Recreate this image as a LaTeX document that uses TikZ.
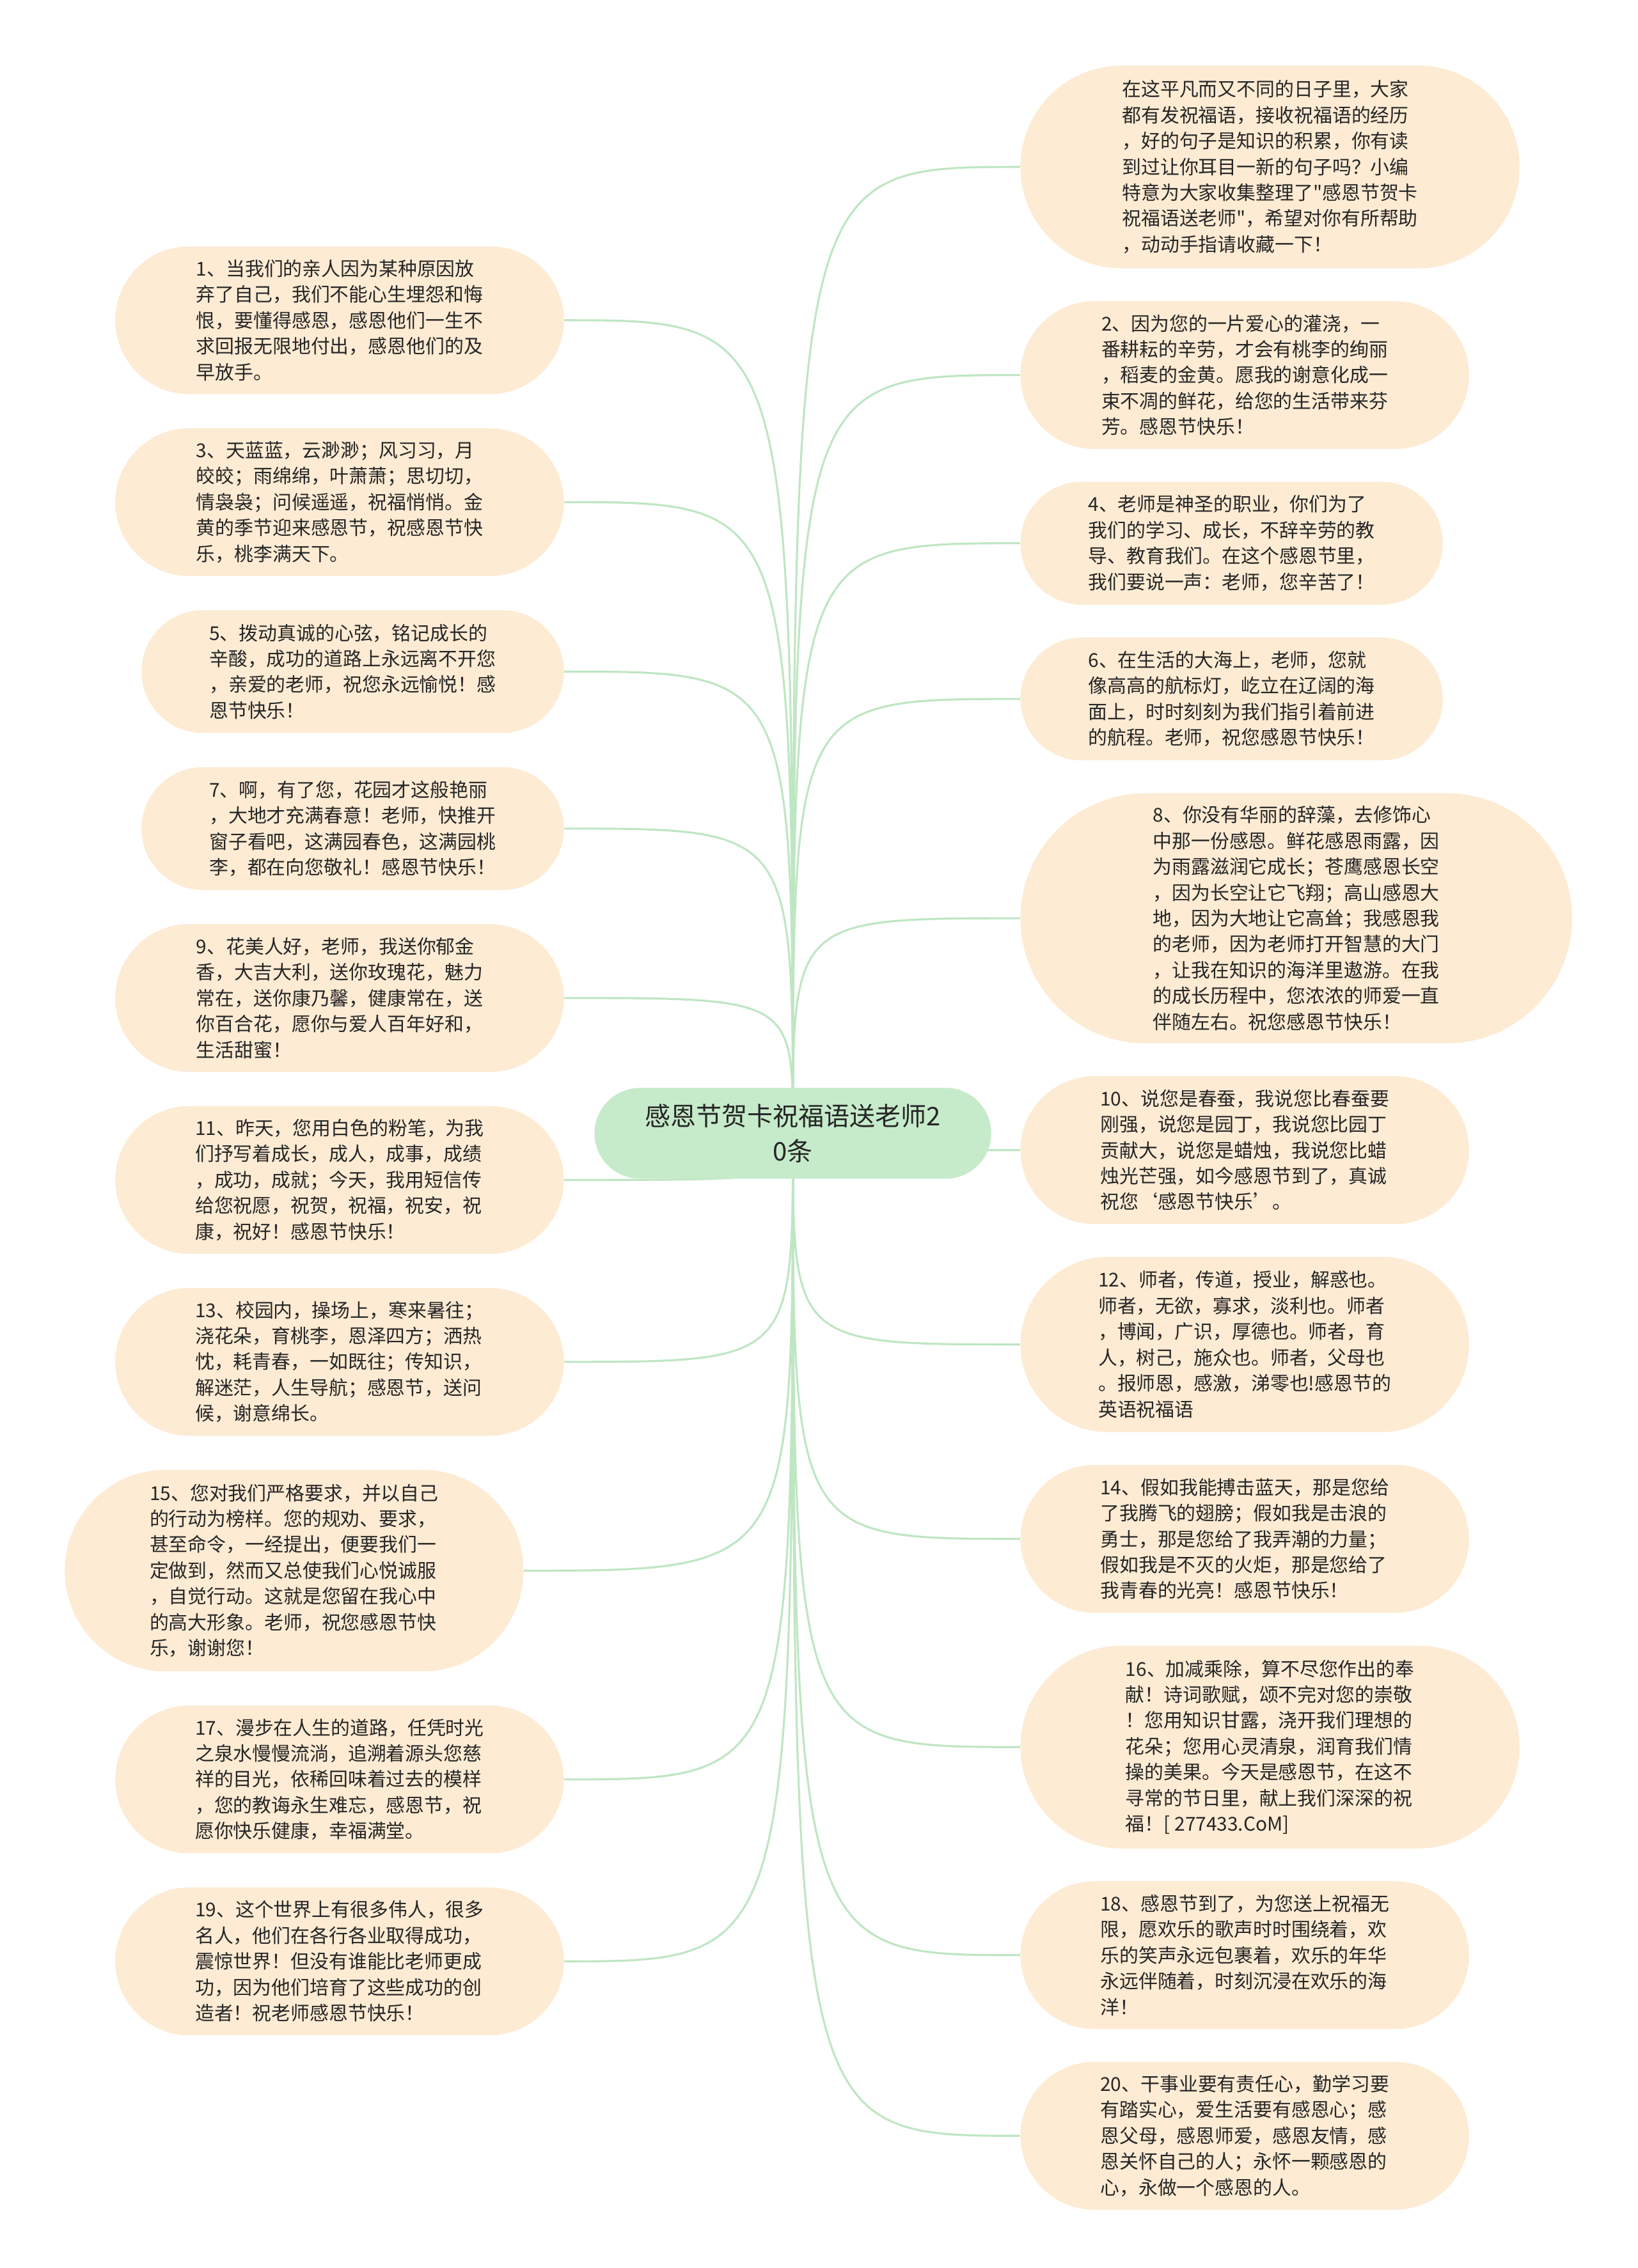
\documentclass[tikz,border=0pt]{standalone}
\usepackage{fontspec}
\usepackage{tikz}
\usetikzlibrary{positioning, backgrounds}
\usepackage{xcolor}
\newfontfamily\cjkfont{Noto Sans CJK SC}

\definecolor{leafpeach}{HTML}{FDEBD3}
\definecolor{hubgreen}{HTML}{C6EBCA}
\definecolor{linkgreen}{HTML}{BFE6C3}
\definecolor{inkgray}{HTML}{262626}

\begin{document}
\begin{tikzpicture}[
x=0.022615cm, y=-0.022615cm,
leaf/.style 2 args={fill=leafpeach, text=inkgray, align=left, inner sep=0pt,
  font=\cjkfont\fontsize{8.5}{11.5}\selectfont,
  minimum width=#1, minimum height=#2, rounded corners=#2/2},
hub/.style={fill=hubgreen, text=inkgray, align=center, inner sep=0pt,
  font=\cjkfont\fontsize{11.4}{15.5}\selectfont,
  minimum width=6.2cm, minimum height=1.42cm, rounded corners=0.71cm},
link/.style={draw=linkgreen, line width=0.9pt}
]

\path[use as bounding box] (0,0) rectangle (1132,1568);

\node[hub] (root) at (548,783.5) {感恩节贺卡祝福语送老师2\\0条};

\node[leaf={7.01cm}{2.31cm}, anchor=north east] (n1) at (390,170) {1、当我们的亲人因为某种原因放\\弃了自己，我们不能心生埋怨和悔\\恨，要懂得感恩，感恩他们一生不\\求回报无限地付出，感恩他们的及\\早放手。};
\node[leaf={7.01cm}{2.31cm}, below left=0.52cm and 0cm of n1.south east] (n3) {3、天蓝蓝，云渺渺；风习习，月\\皎皎；雨绵绵，叶萧萧；思切切，\\情袅袅；问候遥遥，祝福悄悄。金\\黄的季节迎来感恩节，祝感恩节快\\乐，桃李满天下。};
\node[leaf={6.6cm}{1.92cm}, below left=0.52cm and 0cm of n3.south east] (n5) {5、拨动真诚的心弦，铭记成长的\\辛酸，成功的道路上永远离不开您\\，亲爱的老师，祝您永远愉悦！感\\恩节快乐！};
\node[leaf={6.6cm}{1.92cm}, below left=0.52cm and 0cm of n5.south east] (n7) {7、啊，有了您，花园才这般艳丽\\，大地才充满春意！老师，快推开\\窗子看吧，这满园春色，这满园桃\\李，都在向您敬礼！感恩节快乐！};
\node[leaf={7.01cm}{2.31cm}, below left=0.52cm and 0cm of n7.south east] (n9) {9、花美人好，老师，我送你郁金\\香，大吉大利，送你玫瑰花，魅力\\常在，送你康乃馨，健康常在，送\\你百合花，愿你与爱人百年好和，\\生活甜蜜！};
\node[leaf={7.01cm}{2.31cm}, below left=0.52cm and 0cm of n9.south east] (n11) {11、昨天，您用白色的粉笔，为我\\们抒写着成长，成人，成事，成绩\\，成功，成就；今天，我用短信传\\给您祝愿，祝贺，祝福，祝安，祝\\康，祝好！感恩节快乐！};
\node[leaf={7.01cm}{2.31cm}, below left=0.52cm and 0cm of n11.south east] (n13) {13、校园内，操场上，寒来暑往；\\浇花朵，育桃李，恩泽四方；洒热\\忱，耗青春，一如既往；传知识，\\解迷茫，人生导航；感恩节，送问\\候，谢意绵长。};
\node[leaf={7.17cm}{3.15cm}, below left=0.52cm and 0.63cm of n13.south east] (n15) {15、您对我们严格要求，并以自己\\的行动为榜样。您的规劝、要求，\\甚至命令，一经提出，便要我们一\\定做到，然而又总使我们心悦诚服\\，自觉行动。这就是您留在我心中\\的高大形象。老师，祝您感恩节快\\乐，谢谢您！};
\node[leaf={7.01cm}{2.31cm}, below left=0.52cm and -0.63cm of n15.south east] (n17) {17、漫步在人生的道路，任凭时光\\之泉水慢慢流淌，追溯着源头您慈\\祥的目光，依稀回味着过去的模样\\，您的教诲永生难忘，感恩节，祝\\愿你快乐健康，幸福满堂。};
\node[leaf={7.01cm}{2.31cm}, below left=0.52cm and 0cm of n17.south east] (n19) {19、这个世界上有很多伟人，很多\\名人，他们在各行各业取得成功，\\震惊世界！但没有谁能比老师更成\\功，因为他们培育了这些成功的创\\造者！祝老师感恩节快乐！};

\node[leaf={7.8cm}{3.17cm}, anchor=north west] (n0) at (705,45) {在这平凡而又不同的日子里，大家\\都有发祝福语，接收祝福语的经历\\，好的句子是知识的积累，你有读\\到过让你耳目一新的句子吗？小编\\特意为大家收集整理了"感恩节贺卡\\祝福语送老师"，希望对你有所帮助\\，动动手指请收藏一下！};
\node[leaf={7.01cm}{2.31cm}, below right=0.5cm and 0cm of n0.south west] (n2) {2、因为您的一片爱心的灌浇，一\\番耕耘的辛劳，才会有桃李的绚丽\\，稻麦的金黄。愿我的谢意化成一\\束不凋的鲜花，给您的生活带来芬\\芳。感恩节快乐！};
\node[leaf={6.6cm}{1.92cm}, below right=0.5cm and 0cm of n2.south west] (n4) {4、老师是神圣的职业，你们为了\\我们的学习、成长，不辞辛劳的教\\导、教育我们。在这个感恩节里，\\我们要说一声：老师，您辛苦了！};
\node[leaf={6.6cm}{1.92cm}, below right=0.5cm and 0cm of n4.south west] (n6) {6、在生活的大海上，老师，您就\\像高高的航标灯，屹立在辽阔的海\\面上，时时刻刻为我们指引着前进\\的航程。老师，祝您感恩节快乐！};
\node[leaf={8.62cm}{3.91cm}, below right=0.5cm and 0cm of n6.south west] (n8) {8、你没有华丽的辞藻，去修饰心\\中那一份感恩。鲜花感恩雨露，因\\为雨露滋润它成长；苍鹰感恩长空\\，因为长空让它飞翔；高山感恩大\\地，因为大地让它高耸；我感恩我\\的老师，因为老师打开智慧的大门\\，让我在知识的海洋里遨游。在我\\的成长历程中，您浓浓的师爱一直\\伴随左右。祝您感恩节快乐！};
\node[leaf={7.01cm}{2.31cm}, below right=0.5cm and 0cm of n8.south west] (n10) {10、说您是春蚕，我说您比春蚕要\\刚强，说您是园丁，我说您比园丁\\贡献大，说您是蜡烛，我说您比蜡\\烛光芒强，如今感恩节到了，真诚\\祝您‘感恩节快乐’。};
\node[leaf={7.01cm}{2.74cm}, below right=0.5cm and 0cm of n10.south west] (n12) {12、师者，传道，授业，解惑也。\\师者，无欲，寡求，淡利也。师者\\，博闻，广识，厚德也。师者，育\\人，树己，施众也。师者，父母也\\。报师恩，感激，涕零也!感恩节的\\英语祝福语};
\node[leaf={7.01cm}{2.31cm}, below right=0.5cm and 0cm of n12.south west] (n14) {14、假如我能搏击蓝天，那是您给\\了我腾飞的翅膀；假如我是击浪的\\勇士，那是您给了我弄潮的力量；\\假如我是不灭的火炬，那是您给了\\我青春的光亮！感恩节快乐！};
\node[leaf={7.8cm}{3.17cm}, below right=0.5cm and 0cm of n14.south west] (n16) {16、加减乘除，算不尽您作出的奉\\献！诗词歌赋，颂不完对您的崇敬\\！您用知识甘露，浇开我们理想的\\花朵；您用心灵清泉，润育我们情\\操的美果。今天是感恩节，在这不\\寻常的节日里，献上我们深深的祝\\福！[ 277433.CoM]};
\node[leaf={7.01cm}{2.31cm}, below right=0.5cm and 0cm of n16.south west] (n18) {18、感恩节到了，为您送上祝福无\\限，愿欢乐的歌声时时围绕着，欢\\乐的笑声永远包裹着，欢乐的年华\\永远伴随着，时刻沉浸在欢乐的海\\洋！};
\node[leaf={7.01cm}{2.31cm}, below right=0.5cm and 0cm of n18.south west] (n20) {20、干事业要有责任心，勤学习要\\有踏实心，爱生活要有感恩心；感\\恩父母，感恩师爱，感恩友情，感\\恩关怀自己的人；永怀一颗感恩的\\心，永做一个感恩的人。};

\begin{scope}[on background layer]
\fill[white] (0,0) rectangle (1132,1568);
\foreach \n in {n1,n3,n5,n7,n9,n11,n13,n15,n17,n19}
  \draw[link] (root.center) .. controls (root.center |- \n.east) .. (\n.east);
\foreach \n in {n0,n2,n4,n6,n8,n10,n12,n14,n16,n18,n20}
  \draw[link] (root.center) .. controls (root.center |- \n.west) .. (\n.west);
\end{scope}

\end{tikzpicture}
\end{document}
